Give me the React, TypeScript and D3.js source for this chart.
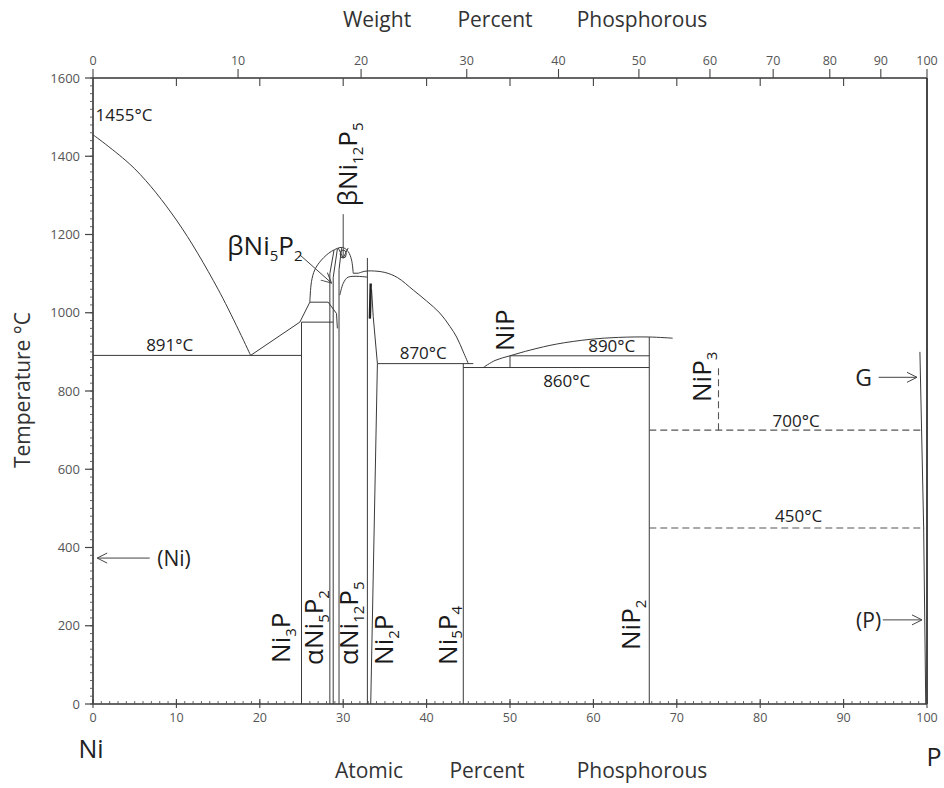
import React from 'react';
import * as d3 from 'd3';

// ---------- axis data ----------
const atomicTicks = [0, 10, 20, 30, 40, 50, 60, 70, 80, 90, 100];
const weightTicks = [0, 10, 20, 30, 40, 50, 60, 70, 80, 90, 100];
const tempTicks = [0, 200, 400, 600, 800, 1000, 1200, 1400, 1600];
const M_NI = 58.693;
const M_P = 30.974;

// ---------- phase boundaries [atomic % P, °C] ----------
const niLiquidus = [[0, 1455], [5, 1368], [10, 1237], [15, 1060], [18.9, 891]];
const eutectic891 = [[0, 891], [25, 891]];
const liquidusNi3P = [[18.9, 891], [24.8, 976], [26.0, 1027]];
const ni3P = [[25, 0], [25, 976]];
const peritectic976 = [[25, 976], [28.8, 976]];
const line1027 = [[26, 1027], [28.2, 1027], [29.2, 998], [29.3, 960]];
const betaDome = [[26.0, 1027], [26.2, 1080], [26.6, 1110], [27.4, 1135], [28.6, 1157], [29.9, 1167], [30.6, 1156], [31.0, 1135], [31.2, 1101]];
const domeStep = [[31.2, 1101], [31.8, 1101]];
const ni2PLiquidus = [[31.8, 1101], [32.6, 1106], [33.4, 1107], [35, 1103], [36.5, 1090], [38.4, 1058], [40, 1030], [41.6, 999], [42.8, 965], [43.6, 938], [44.4, 900], [45, 870]];
const ni5P2Left = [[28.4, 0], [28.4, 1100], [28.9, 1160]];
const ni5P2Right = [[28.8, 0], [28.8, 1090], [29.3, 1163]];
const ni12P5Right = [[29.5, 0], [29.5, 1110], [29.8, 1165]];
const innerDome = [[29.6, 1045], [30.0, 1075], [30.6, 1091], [32.9, 1091]];
const ni2PLeft = [[32.9, 0], [32.9, 1140]];
const ni2PRight = [[33.3, 0], [34.1, 870], [33.6, 990], [33.4, 1060]];
const ni2PBold = [[33.2, 985], [33.3, 1075]];
const eutectic870 = [[34.1, 870], [45.6, 870]];
const ni5P4 = [[44.4, 0], [44.4, 870]];
const line860 = [[44.4, 860], [66.7, 860]];
const nipLiquidus = [[46.8, 860], [48.2, 878], [50, 890], [52.5, 905], [55.6, 920], [59.6, 932], [63, 937], [66.7, 938], [69.5, 935]];
const nip = [[50, 860], [50, 890]];
const line890 = [[50, 890], [66.7, 890]];
const niP2 = [[66.7, 0], [66.7, 938]];
const gLine = [[99.15, 900], [99.6, 450], [99.85, 0]];
const dashed700 = [[66.7, 700], [99.4, 700]];
const dashed450 = [[66.7, 450], [99.7, 450]];
const niP3 = [[75, 700], [75, 865]];
const beta12Loop = [30.0, 1150];

// arrows [from, to]
const arrowNi = [[6.8, 373], [0.5, 373]];
const arrowG = [[94.2, 835], [98.8, 835]];
const arrowP = [[94.7, 215], [99.4, 215]];
const arrowB52 = [[24.8, 1148], [28.6, 1076]];
const arrowB125 = [[30.0, 1252], [30.0, 1140]];

// temperature labels [text, at%, °C]
const tempLabels = [
  ['891°C', 9.2, 902],
  ['870°C', 39.6, 882],
  ['890°C', 62.2, 900],
  ['860°C', 56.8, 810],
  ['700°C', 84.3, 708],
  ['450°C', 84.6, 464],
];

// rotated phase labels: parts [text, isSub], baseline at%, bottom °C
const phaseLabels = [
  { parts: [['Ni', 0], ['3', 1], ['P', 0]], x: 23.6, t: 105 },
  { parts: [['αNi', 0], ['5', 1], ['P', 0], ['2', 1]], x: 27.6, t: 100 },
  { parts: [['αNi', 0], ['12', 1], ['P', 0], ['5', 1]], x: 31.8, t: 100 },
  { parts: [['Ni', 0], ['2', 1], ['P', 0]], x: 36.0, t: 100 },
  { parts: [['Ni', 0], ['5', 1], ['P', 0], ['4', 1]], x: 43.6, t: 100 },
  { parts: [['NiP', 0], ['2', 1]], x: 65.6, t: 138 },
  { parts: [['NiP', 0], ['3', 1]], x: 74.1, t: 772 },
  { parts: [['NiP', 0]], x: 50.5, t: 902 },
  { parts: [['βNi', 0], ['12', 1], ['P', 0], ['5', 1]], x: 31.7, t: 1272 },
];

const FONT = "'Open Sans', 'Noto Sans', sans-serif";

export default function App() {
  const x = d3.scaleLinear().domain([0, 100]).range([93, 927]);
  const y = d3.scaleLinear().domain([0, 1600]).range([704, 78]);
  const wt2at = (w: number) => {
    if (w <= 0) return 0;
    if (w >= 100) return 100;
    const p = w / M_P, n = (100 - w) / M_NI;
    return (p / (p + n)) * 100;
  };
  const straight = d3.line<number[]>().x(d => x(d[0])).y(d => y(d[1]));
  const smooth = d3.line<number[]>().x(d => x(d[0])).y(d => y(d[1])).curve(d3.curveCatmullRom.alpha(0.5));

  const stroke = '#3a3a3a';
  const solidStraight = [eutectic891, liquidusNi3P, ni3P, peritectic976, line1027, domeStep, ni5P2Left, ni5P2Right, ni12P5Right, ni2PLeft, ni2PRight, eutectic870, ni5P4, line860, nip, line890, niP2, gLine];
  const solidSmooth = [niLiquidus, betaDome, ni2PLiquidus, innerDome, nipLiquidus];
  const dashed = [dashed700, dashed450, niP3];

  const minorT = d3.range(0, 1601, 20);
  const minorX = d3.range(0, 101, 1);

  const arrow = (a: number[][], key: string) => (
    <line key={key} x1={x(a[0][0])} y1={y(a[0][1])} x2={x(a[1][0])} y2={y(a[1][1])} stroke="#444" strokeWidth={1} markerEnd="url(#vhead)" />
  );

  const renderParts = (parts: any[], big: number, small: number) => {
    let shifted = false;
    return parts.map((p, i) => {
      const [txt, sub] = p;
      let dy = 0;
      if (sub && !shifted) { dy = small * 0.38; shifted = true; }
      else if (!sub && shifted) { dy = -small * 0.38; shifted = false; }
      return <tspan key={i} dy={dy} fontSize={sub ? small : big}>{txt}</tspan>;
    });
  };

  return (
    <div style={{ position: 'absolute', left: 0, top: 0 }}>
      <svg width={944} height={788} style={{ display: 'block', background: '#fff' }}>
        <defs>
          <marker id="vhead" viewBox="0 0 12 12" refX="11" refY="6" markerWidth="12" markerHeight="12" markerUnits="userSpaceOnUse" orient="auto">
            <path d="M1,1 L11,6 L1,11" fill="none" stroke="#444" strokeWidth={1} />
          </marker>
        </defs>

        {/* frame */}
        <line x1={x(0)} y1={y(0)} x2={x(0)} y2={y(1600)} stroke="#333" strokeWidth={1.6} />
        <line x1={x(0)} y1={y(0)} x2={x(100)} y2={y(0)} stroke="#333" strokeWidth={1.6} />
        <line x1={x(0)} y1={y(1600)} x2={x(100)} y2={y(1600)} stroke="#333" strokeWidth={1.6} />
        <line x1={x(100)} y1={y(0)} x2={x(100)} y2={y(1600)} stroke="#333" strokeWidth={1.8} />

        {/* left ticks */}
        {minorT.map(t => (
          <line key={'mt' + t} x1={x(0) - 3} x2={x(0) + 1} y1={y(t)} y2={y(t)} stroke="#555" strokeWidth={0.9} />
        ))}
        {tempTicks.map(t => (
          <g key={'tt' + t}>
            <line x1={x(0) - 8} x2={x(0)} y1={y(t)} y2={y(t)} stroke="#444" strokeWidth={1.2} />
            <text x={x(0) - 13} y={y(t)} dy="0.35em" textAnchor="end" fontSize={13} fill="#555" fontFamily={FONT}>{t}</text>
          </g>
        ))}

        {/* bottom ticks */}
        {minorX.map(v => (
          <line key={'mx' + v} x1={x(v)} x2={x(v)} y1={y(0) - 3} y2={y(0)} stroke="#555" strokeWidth={0.9} />
        ))}
        {atomicTicks.map(v => (
          <g key={'at' + v}>
            <line x1={x(v)} x2={x(v)} y1={y(0) - 5} y2={y(0) + 4} stroke="#444" strokeWidth={1.1} />
            <text x={x(v)} y={y(0) + 18} textAnchor="middle" fontSize={12.5} fill="#555" fontFamily={FONT}>{v}</text>
          </g>
        ))}

        {/* top ticks: atomic (down) and weight (up) */}
        {atomicTicks.filter(v => v > 0 && v < 100).map(v => (
          <line key={'ta' + v} x1={x(v)} x2={x(v)} y1={y(1600)} y2={y(1600) + 8} stroke="#444" strokeWidth={1.1} />
        ))}
        {weightTicks.map(w => (
          <g key={'wt' + w}>
            <line x1={x(wt2at(w))} x2={x(wt2at(w))} y1={y(1600) - 9} y2={y(1600)} stroke="#444" strokeWidth={1.1} />
            <text x={x(wt2at(w))} y={y(1600) - 13} textAnchor="middle" fontSize={12.5} fill="#555" fontFamily={FONT}>{w}</text>
          </g>
        ))}

        {/* phase boundaries */}
        {solidStraight.map((d, i) => (
          <path key={'s' + i} d={straight(d as any) || ''} fill="none" stroke={stroke} strokeWidth={1} />
        ))}
        {solidSmooth.map((d, i) => (
          <path key={'c' + i} d={smooth(d as any) || ''} fill="none" stroke={stroke} strokeWidth={1} />
        ))}
        <path d={straight(ni2PBold as any) || ''} fill="none" stroke="#222" strokeWidth={2.4} />
        {dashed.map((d, i) => (
          <path key={'d' + i} d={straight(d as any) || ''} fill="none" stroke="#555" strokeWidth={1.1} strokeDasharray="7,4" />
        ))}
        <ellipse cx={x(beta12Loop[0])} cy={y(beta12Loop[1])} rx={3} ry={4} fill="none" stroke={stroke} strokeWidth={1} />

        {/* arrows */}
        {arrow(arrowNi, 'an')}
        {arrow(arrowG, 'ag')}
        {arrow(arrowP, 'ap')}
        {arrow(arrowB52, 'ab1')}
        {arrow(arrowB125, 'ab2')}

        {/* temperature labels */}
        <text x={x(0.3)} y={y(1490)} fontSize={17} fill="#222" fontFamily={FONT}>1455°C</text>
        {tempLabels.map(([t, a, c]) => (
          <text key={t as string} x={x(a as number)} y={y(c as number)} textAnchor="middle" fontSize={17} fill="#222" fontFamily={FONT}>{t}</text>
        ))}

        {/* phase labels */}
        {phaseLabels.map((l, i) => {
          const px = x(l.x), py = y(l.t);
          return (
            <text key={'pl' + i} transform={`translate(${px},${py}) rotate(-90)`} textAnchor="start" fill="#1a1a1a" fontFamily={FONT}>
              {renderParts(l.parts, 26, 15)}
            </text>
          );
        })}
        <text x={x(16.1)} y={y(1148)} fill="#1a1a1a" fontFamily={FONT}>
          {renderParts([['βNi', 0], ['5', 1], ['P', 0], ['2', 1]], 26, 15)}
        </text>

        {/* side labels */}
        <text x={x(7.7)} y={y(353)} fontSize={21} fill="#222" fontFamily={FONT}>(Ni)</text>
        <text x={x(92.4)} y={y(813)} textAnchor="middle" fontSize={23} fill="#222" fontFamily={FONT}>G</text>
        <text x={x(93.0)} y={y(194)} textAnchor="middle" fontSize={21} fill="#222" fontFamily={FONT}>(P)</text>

        {/* axis titles */}
        <text transform={`translate(30,390) rotate(-90)`} textAnchor="middle" fontSize={21} fill="#333" fontFamily={FONT}>Temperature °C</text>
        <text x={377} y={27} textAnchor="middle" fontSize={21} fill="#333" fontFamily={FONT}>Weight</text>
        <text x={495} y={27} textAnchor="middle" fontSize={21} fill="#333" fontFamily={FONT}>Percent</text>
        <text x={642} y={27} textAnchor="middle" fontSize={21} fill="#333" fontFamily={FONT}>Phosphorous</text>
        <text x={369} y={778} textAnchor="middle" fontSize={21} fill="#333" fontFamily={FONT}>Atomic</text>
        <text x={487} y={778} textAnchor="middle" fontSize={21} fill="#333" fontFamily={FONT}>Percent</text>
        <text x={642} y={778} textAnchor="middle" fontSize={21} fill="#333" fontFamily={FONT}>Phosphorous</text>
        <text x={91} y={758} textAnchor="middle" fontSize={25} fill="#222" fontFamily={FONT}>Ni</text>
        <text x={934} y={766} textAnchor="middle" fontSize={25} fill="#222" fontFamily={FONT}>P</text>
      </svg>
    </div>
  );
}
